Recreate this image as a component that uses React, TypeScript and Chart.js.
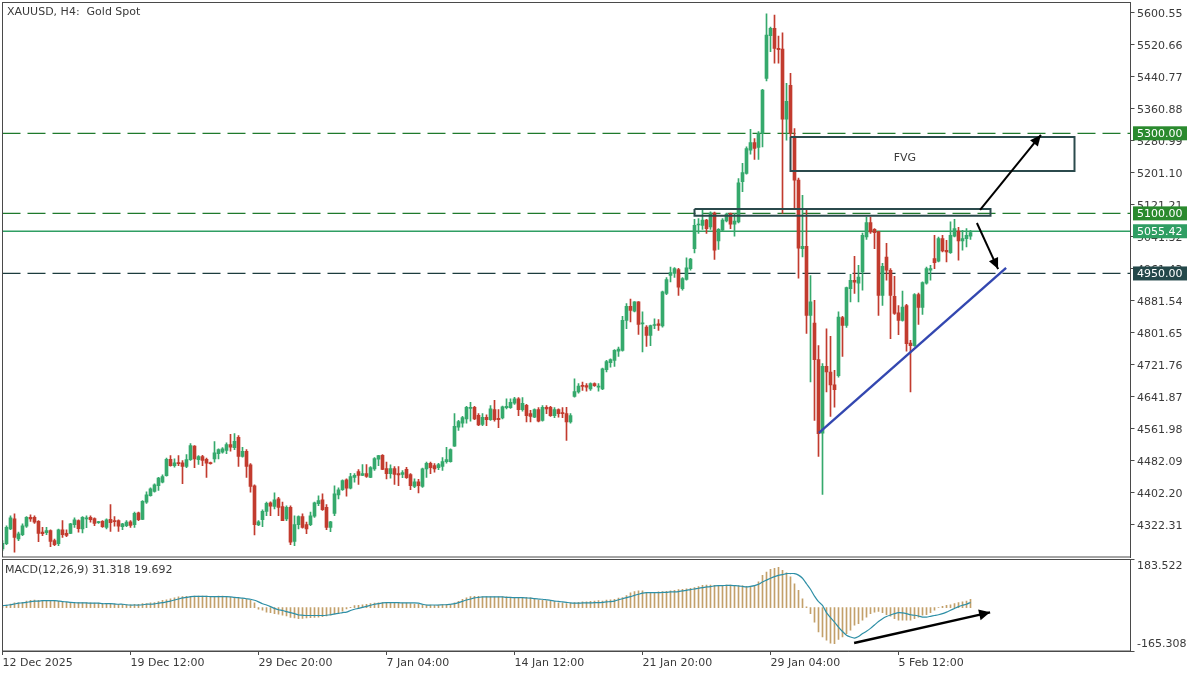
import React, { useEffect, useRef } from "react";
import { Chart, registerables } from "chart.js";

Chart.register(...registerables);

// [open, high, low, close] of every H4 candle
const ohlc: number[][] = [
  [4262,4283,4258,4276],[4275,4320,4273,4316],[4312,4345,4310,4340],[4337,4350,4254,4291],[4287,4304,4283,4300],
  [4298,4325,4295,4320],[4319,4343,4316,4341],[4341,4347,4331,4337],[4341,4345,4326,4329],[4331,4333,4280,4301],
  [4304,4316,4295,4300],[4303,4316,4298,4308],[4308,4310,4268,4281],[4283,4287,4270,4273],[4275,4312,4270,4310],
  [4310,4333,4291,4298],[4301,4310,4293,4296],[4301,4326,4300,4325],[4323,4340,4316,4335],[4333,4335,4304,4313],
  [4312,4343,4302,4341],[4337,4345,4315,4340],[4341,4345,4329,4335],[4338,4340,4320,4326],[4328,4331,4326,4330],
  [4331,4333,4316,4318],[4316,4337,4312,4335],[4336,4373,4306,4328],[4333,4343,4319,4330],[4333,4335,4306,4319],
  [4318,4326,4310,4325],[4320,4333,4318,4329],[4330,4333,4316,4321],[4323,4354,4316,4351],[4352,4354,4333,4335],
  [4336,4383,4335,4381],[4379,4405,4376,4397],[4395,4415,4394,4412],[4406,4425,4404,4422],[4420,4441,4408,4439],
  [4429,4447,4427,4443],[4445,4489,4444,4486],[4486,4495,4469,4470],[4470,4487,4466,4477],[4477,4495,4470,4475],
  [4477,4483,4425,4468],[4468,4498,4465,4485],[4485,4525,4483,4520],[4519,4520,4465,4487],[4485,4495,4473,4493],
  [4493,4496,4470,4483],[4486,4489,4441,4476],[4478,4479,4474,4475],[4487,4530,4479,4502],[4500,4512,4487,4510],
  [4504,4515,4501,4512],[4508,4527,4500,4523],[4523,4548,4506,4516],[4515,4550,4510,4531],[4541,4545,4468,4493],
  [4493,4516,4491,4506],[4506,4510,4441,4468],[4472,4475,4404,4418],[4420,4422,4297,4323],[4322,4333,4320,4330],
  [4335,4360,4318,4356],[4356,4379,4345,4376],[4377,4380,4345,4369],[4368,4402,4362,4385],[4387,4391,4345,4366],
  [4368,4379,4333,4333],[4337,4370,4333,4366],[4366,4370,4273,4279],[4281,4345,4270,4323],[4323,4345,4312,4343],
  [4343,4350,4314,4316],[4323,4329,4300,4312],[4323,4354,4320,4345],[4344,4379,4341,4377],[4375,4395,4370,4383],
  [4385,4400,4358,4360],[4366,4373,4310,4316],[4316,4331,4305,4330],[4351,4420,4345,4400],[4397,4415,4387,4410],
  [4410,4435,4408,4433],[4435,4437,4394,4414],[4414,4451,4412,4443],[4441,4450,4429,4446],[4455,4460,4423,4446],
  [4446,4473,4445,4450],[4450,4473,4441,4443],[4441,4468,4440,4465],[4462,4490,4458,4488],[4486,4496,4470,4495],
  [4496,4498,4460,4461],[4463,4479,4437,4450],[4450,4472,4439,4463],[4463,4468,4423,4448],[4450,4468,4420,4447],
  [4448,4458,4440,4453],[4461,4466,4438,4440],[4448,4450,4410,4420],[4418,4437,4415,4430],[4430,4436,4402,4420],
  [4418,4464,4416,4462],[4462,4479,4441,4476],[4476,4479,4450,4465],[4470,4475,4454,4462],[4465,4476,4460,4473],
  [4468,4490,4458,4480],[4480,4516,4476,4485],[4480,4512,4479,4510],[4519,4600,4518,4568],[4566,4583,4558,4580],
  [4576,4593,4566,4590],[4587,4618,4576,4616],[4613,4628,4581,4616],[4616,4618,4585,4587],[4596,4600,4570,4572],
  [4573,4600,4570,4591],[4591,4597,4570,4585],[4585,4620,4583,4612],[4610,4633,4581,4585],[4588,4610,4565,4585],
  [4589,4619,4587,4617],[4615,4637,4612,4618],[4615,4637,4613,4628],[4626,4641,4623,4637],[4637,4640,4595,4610],
  [4610,4640,4606,4626],[4621,4623,4579,4595],[4600,4608,4579,4593],[4591,4612,4590,4610],[4610,4615,4579,4581],
  [4583,4620,4581,4616],[4616,4620,4600,4612],[4616,4618,4593,4595],[4595,4615,4590,4610],[4610,4612,4591,4600],
  [4601,4615,4590,4600],[4600,4616,4533,4579],[4579,4600,4576,4595],[4643,4687,4641,4655],[4654,4675,4651,4669],
  [4670,4679,4658,4668],[4670,4675,4656,4666],[4662,4677,4658,4675],[4675,4677,4668,4670],[4666,4675,4656,4668],
  [4662,4714,4660,4712],[4710,4733,4704,4730],[4727,4737,4716,4735],[4733,4760,4718,4758],[4756,4766,4743,4761],
  [4758,4843,4756,4833],[4833,4875,4812,4868],[4868,4886,4829,4858],[4856,4880,4854,4879],[4879,4880,4798,4823],
  [4824,4854,4754,4827],[4816,4820,4768,4795],[4795,4821,4770,4820],[4820,4837,4812,4822],[4824,4835,4808,4820],
  [4819,4906,4816,4904],[4900,4940,4897,4935],[4945,4966,4929,4952],[4950,4965,4940,4962],[4960,4963,4895,4916],
  [4912,4940,4908,4937],[4935,4989,4933,4964],[4962,4988,4958,4986],[5012,5085,5001,5070],[5071,5087,5050,5073],
  [5070,5110,5060,5083],[5083,5085,5050,5062],[5066,5104,5060,5101],[5101,5103,4985,5008],[5031,5062,5010,5060],
  [5058,5087,5056,5083],[5081,5101,5079,5098],[5100,5101,5062,5073],[5073,5100,5043,5081],[5079,5187,5076,5176],
  [5179,5225,5154,5202],[5200,5266,5198,5262],[5258,5310,5248,5277],[5277,5287,5235,5262],[5265,5304,5235,5300],
  [5300,5410,5266,5408],[5437,5598,5431,5545],[5544,5565,5504,5562],[5562,5595,5475,5512],[5512,5543,5475,5509],
  [5510,5551,5100,5335],[5335,5425,5283,5380],[5420,5450,5291,5300],[5291,5312,5112,5183],[5183,5188,4938,5013],
  [5012,5145,4991,5018],[5018,5110,4800,4845],[4845,4945,4679,4879],[4826,4883,4583,4735],[4735,4770,4493,4550],
  [4551,4725,4398,4718],[4718,4812,4654,4704],[4704,4793,4593,4672],[4672,4708,4616,4660],[4695,4854,4691,4841],
  [4840,4843,4743,4820],[4820,4916,4815,4915],[4912,4948,4879,4933],[4933,4993,4900,4928],[4926,4970,4879,4941],
  [4954,5051,4908,5045],[5041,5091,5035,5077],[5077,5091,5050,5054],[5060,5062,5012,5052],[5054,5055,4845,4895],
  [4895,4975,4870,4968],[4991,5025,4933,4958],[4958,4962,4787,4895],[4893,4943,4848,4850],[4852,4870,4797,4833],
  [4833,4906,4831,4866],[4870,4873,4756,4775],[4776,4783,4654,4770],[4770,4900,4768,4897],[4897,4901,4823,4865],
  [4865,4929,4848,4927],[4926,4966,4923,4962],[4958,4970,4933,4962],[4987,5045,4962,4977],[4981,5041,4979,5037],
  [5037,5045,5004,5006],[5008,5033,4979,5004],[5002,5079,5000,5045],[5043,5085,5041,5062],[5056,5065,4983,5031],
  [5031,5058,5008,5037],[5037,5062,5016,5045],[5043,5058,5035,5052],
];

const macdHistogram: number[] = [
  9,10,14,18,18,20,25,28,29,28,28,27,28,28,24,22,20,20,19,19,19,18,18,17,17,15,15,14,14,13,13,11,11,13,13,15,15,18,19,23,28,30,34,37,41,42,43,43,44,44,44,44,43,43,44,44,43,39,37,36,34,32,28,18,
  -6,-10,-17,-19,-23,-25,-29,-32,-37,-39,-42,-41,-39,-38,-37,-36,-34,-32,-29,-25,-23,-13,-5,1,8,9,11,13,15,17,18,19,19,19,18,18,17,17,15,14,13,11,10,10,9,10,
  12,13,13,18,24,32,37,42,43,43,41,42,41,41,41,41,41,39,38,38,38,38,37,33,30,28,27,24,23,18,18,15,17,19,20,22,22,24,25,27,25,29,30,32,36,38,46,56,61,64,64,58,
  57,58,60,61,62,64,66,69,70,72,74,76,80,85,86,86,85,85,85,86,86,85,83,83,81,79,84,98,123,136,146,150,154,142,133,117,91,66,34,3,
  -23,-55,-93,-112,-124,-135,-137,-121,-112,-99,-86,-67,-61,-48,-36,-23,-17,-14,-19,-27,-33,-42,-48,-48,-48,-48,-42,-36,-29,-27,-19,-10,0,5,9,11,15,19,22,25,31.318,
];

const macdSignal: number[] = [
  8,9,11,14,17,18,20,23,25,25,27,27,27,27,25,23,22,20,19,18,18,18,17,17,17,15,15,15,14,13,13,11,10,10,10,11,13,13,14,17,19,22,25,29,33,37,39,42,43,43,43,43,42,42,42,42,42,41,39,38,36,34,32,28,22,15,10,4,-3,-8,-11,-15,-19,-23,-28,-29,-30,-30,-30,-30,-30,-29,-27,-24,-22,-19,-17,-11,-6,-3,1,5,9,13,15,18,19,19,19,19,18,18,18,18,17,13,10,10,10,10,
  11,11,13,15,19,24,29,33,37,39,41,41,41,41,41,41,39,39,38,38,38,37,36,34,33,32,30,28,25,24,22,20,18,17,17,18,18,18,19,19,20,22,23,25,30,34,38,42,47,51,55,57,57,57,57,58,58,60,60,61,64,66,69,71,74,76,79,80,83,84,84,85,85,84,83,81,79,81,84,89,98,105,112,118,123,126,130,130,130,124,112,91,70,44,23,9,
  -19,-38,-55,-74,-91,-105,-112,-116,-110,-99,-90,-79,-66,-53,-42,-34,-28,-23,-19,-20,-23,-27,-29,-32,-36,-36,-33,-30,-27,-23,-17,-10,-3,4,9,13,19.692,
];

const dateTickIndex = [0, 32, 64, 96, 128, 160, 192, 224];
const dateTickLabels = ["12 Dec 2025", "19 Dec 12:00", "29 Dec 20:00", "7 Jan 04:00", "14 Jan 12:00", "21 Jan 20:00", "29 Jan 04:00", "5 Feb 12:00"];
const priceTicks = [5600.55, 5520.66, 5440.77, 5360.88, 5280.99, 5201.1, 5121.21, 5041.32, 4961.43, 4881.54, 4801.65, 4721.76, 4641.87, 4561.98, 4482.09, 4402.2, 4322.31];
const macdTicks = [183.522, -165.308];

const slotCount = 282;
const priceMax = 5626.6;
const priceMin = 4242;

// horizontal levels: [price, label, line colour, box colour, dashed]
const levels: [number, string, string, string, boolean][] = [
  [5300, "5300.00", "#1f7a2c", "#2a8a2e", true],
  [5100, "5100.00", "#1f7a2c", "#2a8a2e", true],
  [5055.42, "5055.42", "#2f9e63", "#2f9e63", false],
  [4950, "4950.00", "#1c3c3e", "#24484a", true],
];

// annotation geometry in [candle index, price]
const fvgBox = [[197, 5291], [268, 5291], [268, 5206], [197, 5206], [197, 5291]];
const zoneBox = [[173, 5111], [247, 5111], [247, 5094], [173, 5094], [173, 5111]];
const fvgLabel = [225.6, 5238];
const trendLine = [[204.1, 4552], [250.9, 4964]];
const arrowUp = [[244.4, 5109], [259.6, 5296]];
const arrowDown = [[243.6, 5076], [248.9, 4961]];
const macdArrow = [[212.9, -135], [246.9, -18]];

const GREEN = "#35a96c";
const RED = "#c23b2e";
const FONT = "'DejaVu Sans', sans-serif";
const FRAME = "#4a4a4a";
const TEXT = "#3a3a3a";
const AXIS_W = 69.5;

const pts = (rows: number[][]) => rows.map(([x, y]) => ({ x, y }));

function drawHead(ctx: CanvasRenderingContext2D, x0: number, y0: number, x1: number, y1: number, len: number, half: number) {
  const a = Math.atan2(y1 - y0, x1 - x0);
  ctx.save();
  ctx.translate(x1, y1);
  ctx.rotate(a);
  ctx.fillStyle = "#000";
  ctx.beginPath();
  ctx.moveTo(0, 0);
  ctx.lineTo(-len, -half);
  ctx.lineTo(-len, half);
  ctx.closePath();
  ctx.fill();
  ctx.restore();
}

function frame(chart: any) {
  const { ctx, chartArea: a } = chart;
  ctx.save();
  ctx.strokeStyle = FRAME;
  ctx.lineWidth = 1;
  ctx.strokeRect(a.left, a.top, a.right - a.left, a.bottom - a.top);
  ctx.restore();
}

function noPadding(s: any) {
  s.paddingTop = 0;
  s.paddingBottom = 0;
  s.paddingLeft = 0;
  s.paddingRight = 0;
}

const xAxisBase = {
  type: "linear",
  min: 0,
  max: slotCount,
  offset: false,
};

const pricePlugin = {
  id: "priceOverlay",
  afterDatasetsDraw(chart: any) {
    const { ctx, scales } = chart;
    const x = scales.x;
    const y = scales.y;
    for (const arrow of [arrowUp, arrowDown]) {
      drawHead(ctx, x.getPixelForValue(arrow[0][0]), y.getPixelForValue(arrow[0][1]), x.getPixelForValue(arrow[1][0]), y.getPixelForValue(arrow[1][1]), 11, 5);
    }
    ctx.save();
    ctx.fillStyle = TEXT;
    ctx.font = `11px ${FONT}`;
    ctx.textAlign = "center";
    ctx.textBaseline = "middle";
    ctx.fillText("FVG", x.getPixelForValue(fvgLabel[0]), y.getPixelForValue(fvgLabel[1]));
    ctx.restore();
  },
  afterDraw(chart: any) {
    const { ctx, scales, chartArea } = chart;
    frame(chart);
    ctx.save();
    ctx.fillStyle = TEXT;
    ctx.font = `11px ${FONT}`;
    ctx.textAlign = "left";
    ctx.textBaseline = "middle";
    ctx.fillText("XAUUSD, H4:  Gold Spot", 7, 12);
    ctx.textAlign = "left";
    for (const [price, label, , box] of levels) {
      const py = scales.y.getPixelForValue(price);
      ctx.fillStyle = box;
      ctx.fillRect(chartArea.right + 2.5, py - 7, 54, 14);
      ctx.fillStyle = "#fff";
      ctx.fillText(label, chartArea.right + 6.5, py + 0.5);
    }
    ctx.restore();
  },
};

const macdPlugin = {
  id: "macdOverlay",
  afterDatasetsDraw(chart: any) {
    const { ctx, scales } = chart;
    drawHead(ctx, scales.x.getPixelForValue(macdArrow[0][0]), scales.y.getPixelForValue(macdArrow[0][1]), scales.x.getPixelForValue(macdArrow[1][0]), scales.y.getPixelForValue(macdArrow[1][1]), 11, 5.5);
  },
  afterDraw(chart: any) {
    const { ctx } = chart;
    frame(chart);
    ctx.save();
    ctx.fillStyle = TEXT;
    ctx.font = `11px ${FONT}`;
    ctx.textBaseline = "middle";
    ctx.fillText("MACD(12,26,9) 31.318 19.692", 5, 12);
    ctx.restore();
  },
};

function yAxisShared() {
  return {
    position: "right",
    afterFit(s: any) { s.width = AXIS_W; noPadding(s); },
    border: { display: true, color: FRAME },
    grid: { display: true, drawOnChartArea: false, drawTicks: true, tickLength: 4, color: FRAME },
  };
}

export default function App() {
  const topRef = useRef<HTMLCanvasElement>(null);
  const botRef = useRef<HTMLCanvasElement>(null);

  useEffect(() => {
    document.body.style.margin = "0";
    document.body.style.background = "#fff";
    const colours = ohlc.map((r) => (r[3] >= r[0] ? GREEN : RED));

    const top = new Chart(topRef.current as any, {
      type: "bar",
      data: {
        datasets: [
          ...levels.map(([price, , colour, , dashed]) => ({
            type: "line",
            data: pts([[0, price], [slotCount, price]]),
            borderColor: colour,
            borderWidth: 1.3,
            borderDash: dashed ? [18, 7] : [],
            pointRadius: 0,
            order: 5,
          })),
          {
            type: "bar",
            data: ohlc.map((r, i) => ({ x: i, y: [r[2], r[1]] })),
            backgroundColor: colours,
            barThickness: 1,
            grouped: false,
            order: 3,
          },
          {
            type: "bar",
            data: ohlc.map((r, i) => ({ x: i, y: [r[0], r[3]] })),
            backgroundColor: colours,
            barThickness: 3,
            minBarLength: 1,
            grouped: false,
            order: 2,
          },
          ...[fvgBox, zoneBox].map((box) => ({
            type: "line",
            data: pts(box),
            borderColor: "#2b4a4c",
            borderWidth: 2,
            pointRadius: 0,
            tension: 0,
            order: 1,
          })),
          { type: "line", data: pts(trendLine), borderColor: "#3347b0", borderWidth: 2.4, pointRadius: 0, order: 1 },
          ...[arrowUp, arrowDown].map((a) => ({ type: "line", data: pts(a), borderColor: "#000", borderWidth: 2, pointRadius: 0, order: 0 })),
        ] as any,
      },
      options: {
        animation: false,
        responsive: false,
        devicePixelRatio: 1,
        events: [],
        layout: { padding: { left: 2.5, top: 2.5, right: 0, bottom: 1 } },
        plugins: { legend: { display: false }, tooltip: { enabled: false } },
        scales: {
          x: { ...xAxisBase, display: false, grid: { display: false, offset: false } },
          y: {
            ...yAxisShared(),
            min: priceMin,
            max: priceMax,
            afterBuildTicks(s: any) { s.ticks = priceTicks.map((value) => ({ value })); },
            ticks: {
              autoSkip: false,
              color: TEXT,
              font: { family: FONT, size: 11 },
              padding: 2.5,
              labelOffset: 1,
              callback: (v: any) => Number(v).toFixed(2),
            },
          },
        },
      } as any,
      plugins: [pricePlugin],
    } as any);

    const bottom = new Chart(botRef.current as any, {
      type: "bar",
      data: {
        datasets: [
          {
            type: "bar",
            data: macdHistogram.map((y, x) => ({ x, y })),
            backgroundColor: "#c3a06a",
            barThickness: 1,
            grouped: false,
            order: 3,
          },
          {
            type: "line",
            data: macdSignal.map((y, x) => ({ x, y })),
            borderColor: "#2e8fa6",
            borderWidth: 1.2,
            pointRadius: 0,
            tension: 0.2,
            order: 2,
          },
          { type: "line", data: pts(macdArrow), borderColor: "#000", borderWidth: 2.5, pointRadius: 0, order: 1 },
        ] as any,
      },
      options: {
        animation: false,
        responsive: false,
        devicePixelRatio: 1,
        events: [],
        layout: { padding: { left: 2.5, top: 1.5, right: 0, bottom: 0 } },
        plugins: { legend: { display: false }, tooltip: { enabled: false } },
        scales: {
          x: {
            ...xAxisBase,
            position: "bottom",
            afterFit(s: any) { s.height = 24; noPadding(s); },
            afterBuildTicks(s: any) { s.ticks = dateTickIndex.map((value) => ({ value })); },
            border: { display: true, color: FRAME },
            grid: { display: true, offset: false, drawOnChartArea: false, drawTicks: true, tickLength: 4, color: FRAME },
            ticks: {
              autoSkip: false,
              maxRotation: 0,
              minRotation: 0,
              align: "start",
              color: TEXT,
              font: { family: FONT, size: 11 },
              padding: 2,
              callback: (v: any) => dateTickLabels[dateTickIndex.indexOf(Number(v))],
            },
          },
          y: {
            ...yAxisShared(),
            min: macdTicks[1],
            max: macdTicks[0],
            afterBuildTicks(s: any) { s.ticks = macdTicks.map((value) => ({ value })); },
            ticks: {
              autoSkip: false,
              color: TEXT,
              font: { family: FONT, size: 11 },
              padding: 2.5,
              callback: (v: any) => {
                const text = Number(v).toFixed(3);
                return Number(v) > 0 ? ["", text] : [text, ""];
              },
            },
          },
        },
      } as any,
      plugins: [macdPlugin],
    } as any);

    return () => {
      top.destroy();
      bottom.destroy();
    };
  }, []);

  return (
    <div style={{ position: "relative", width: 1200, height: 675, background: "#fff", overflow: "hidden" }}>
      <canvas ref={topRef} width={1200} height={558} style={{ position: "absolute", left: 0, top: 0, width: 1200, height: 558 }} />
      <canvas ref={botRef} width={1200} height={117} style={{ position: "absolute", left: 0, top: 558, width: 1200, height: 117 }} />
    </div>
  );
}
